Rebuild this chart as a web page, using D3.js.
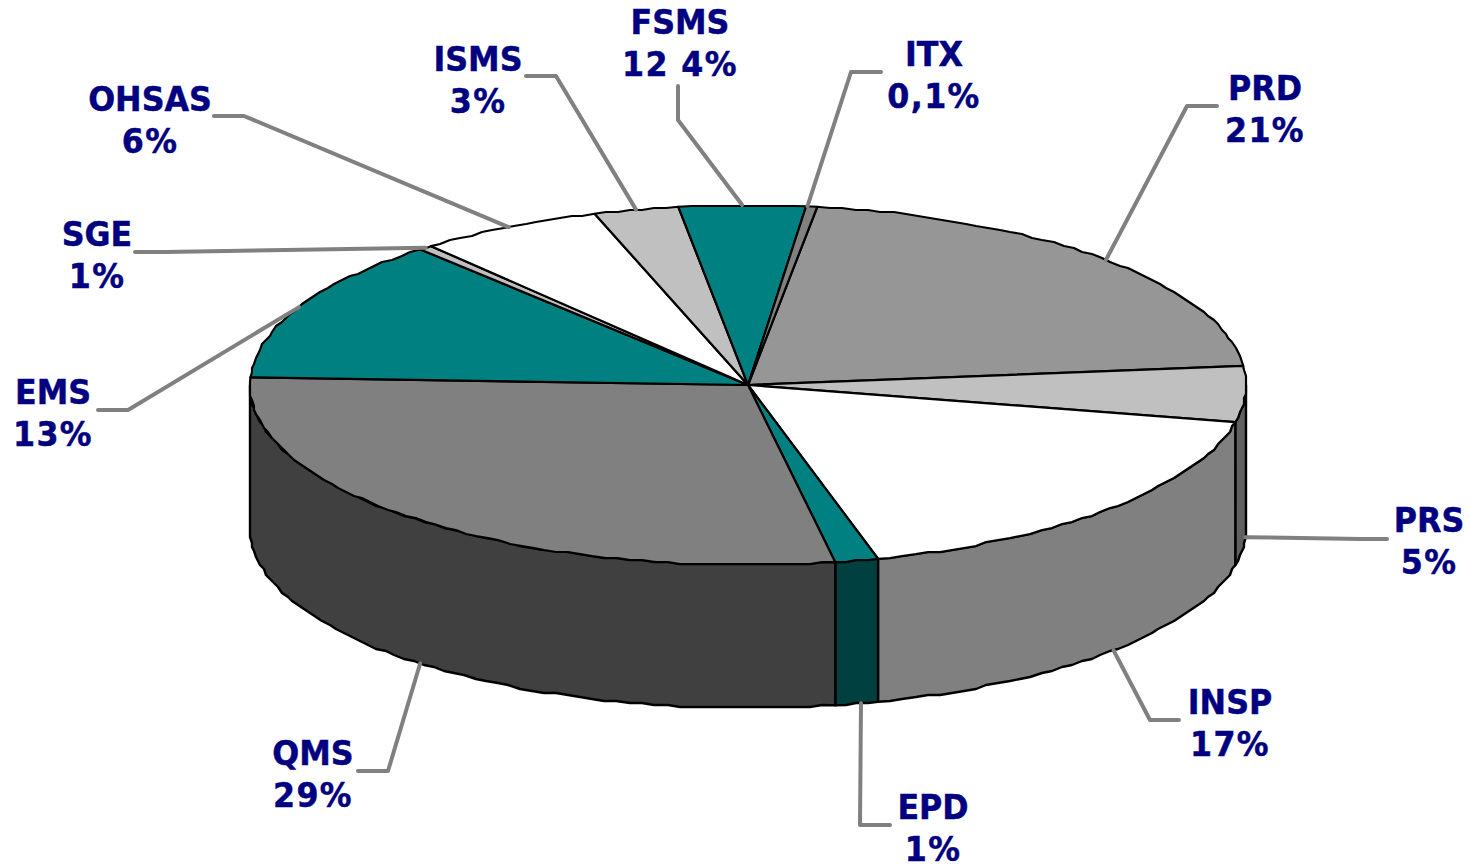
<!DOCTYPE html>
<html><head><meta charset="utf-8">
<script src="https://cdn.jsdelivr.net/npm/d3@7/dist/d3.min.js"></script>
<style>html,body{margin:0;background:#fff;overflow:hidden}svg{display:block}
text{font-family:"DejaVu Sans",sans-serif;font-weight:700;font-size:34.5px;fill:#000080;stroke:#000080;stroke-width:.5px;text-anchor:middle}</style>
</head><body><svg id="c" width="1470" height="866"></svg>
<script>
// clockwise from the top of the pie
const categories = ["PRD","PRS","INSP","EPD","QMS","EMS","SGE","OHSAS","ISMS","FSMS","ITX"];
const shares     = [21.1,5,17.5,1.4,28.5,12.9,0.45,6,2.75,4.1,0.36];
const shareLabels= ["21%","5%","17%","1%","29%","13%","1%","6%","3%","12 4%","0,1%"];
const topColors  = ["#969696","#c0c0c0","#ffffff","#008080","#808080","#008080","#c0c0c0","#ffffff","#c0c0c0","#008080","#808080"];
const sideColors = ["#4b4b4b","#606060","#808080","#004040","#404040","#004040","#606060","#808080","#606060","#004040","#404040"];
// annotation layout: label centre, first baseline, leader elbow and leader end
const labelX = [1265,1429,1230,933,313,53,97,150,478,680,934];
const labelY = [100,532,714,819,765,404,246,111,71,34,66];
const elbowX = [1187,1360,1150,860,388,128,165,244,556,678,851];
const elbowY = [106,539,720,825,771,410,252,116,76,120,72];
const endX   = [1217,1387,1179,890,358,98,135,214,526,678,881];
const endY   = [106,539,720,825,771,410,252,116,76,86,72];
const leaderShiftDeg = [0,0,-0.6,-0.5,0,0,0,0,0,0,-0.5];

const cx=748, cy=385, rx=498, ry=180, depth=143, grid=2, startDeg=8, squeeze=0.92;
const rad=d3.scaleLinear().domain([0,360]).range([0,2*Math.PI]);
const snap=v=>Math.round(v/grid)*grid;
const px=a=>cx+rx*Math.sin(a), py=a=>cy-ry*Math.cos(a);
const svg=d3.select("#c");
const arcs=d3.pie().value((d,i)=>shares[i]).sort(null)
  .startAngle(rad(startDeg)).endAngle(rad(startDeg+360))(categories);
const line=d3.line();
function rim(a0,a1,dy=0){
  const n=Math.max(1,Math.ceil((a1-a0)/rad(1.5))), pts=[];
  for(let i=0;i<=n;i++){
    const a=a0+(a1-a0)*i/n, inner=i>0&&i<n;
    pts.push([inner?snap(px(a)):px(a),(inner?snap(py(a)):py(a))+dy]);
  }
  return pts;
}
// sides: only the visible front half
const lo=rad(90), hi=rad(270);
arcs.forEach((d,i)=>{
  const a0=Math.max(d.startAngle,lo), a1=Math.min(d.endAngle,hi);
  if(a1<=a0) return;
  const top=rim(a0,a1,0), bottom=rim(a0,a1,depth).reverse();
  svg.append("path").attr("d",line(top.concat(bottom))+"Z")
    .attr("fill",sideColors[i]).attr("stroke","#000").attr("stroke-width",2.4).attr("stroke-linejoin","round");
});
// top faces
arcs.forEach((d,i)=>{
  svg.append("path").attr("d",line([[cx,cy]].concat(rim(d.startAngle,d.endAngle)))+"Z")
    .attr("fill",topColors[i]).attr("stroke","#000").attr("stroke-width",2.2).attr("stroke-linejoin","round");
});
// leaders from each slice's mid angle, then labels
arcs.forEach((d,i)=>{
  const m=(d.startAngle+d.endAngle)/2+rad(leaderShiftDeg[i]), norm=m%(2*Math.PI);
  const front=norm>lo&&norm<hi;
  const anchor=[px(m),py(m)+(front?depth:0)];
  svg.append("path").attr("d",line([anchor,[elbowX[i],elbowY[i]],[endX[i],endY[i]]]))
    .attr("fill","none").attr("stroke","#808080").attr("stroke-width",4).attr("stroke-linecap","round").attr("stroke-linejoin","round");
  const t=svg.append("text").attr("transform",`translate(${labelX[i]},${labelY[i]}) scale(${squeeze},1)`);
  t.append("tspan").attr("x",0).text(categories[i]);
  t.append("tspan").attr("x",0).attr("dy",42).attr("letter-spacing",1.5).text(shareLabels[i]);
});
</script></body></html>
